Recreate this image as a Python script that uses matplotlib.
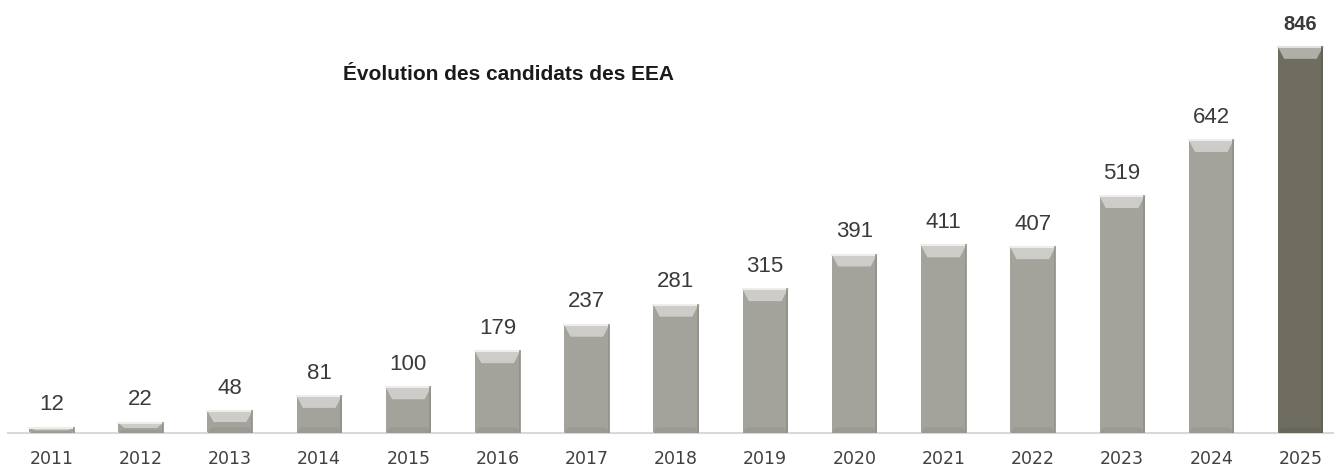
import matplotlib.pyplot as plt
from matplotlib.patches import Polygon

years = ['2011', '2012', '2013', '2014', '2015', '2016', '2017', '2018',
         '2019', '2020', '2021', '2022', '2023', '2024', '2025']
candidats = [12, 22, 48, 81, 100, 179, 237, 281, 315, 391, 411, 407, 519, 642, 846]

grey = '#a4a39b'
dark = '#6e6d60'
colors = [grey] * (len(years) - 1) + [dark]


def lighten(c, f):
    r, g, b = [int(c[i:i + 2], 16) / 255 for i in (1, 3, 5)]
    if f < 0:
        return (r * (1 + f), g * (1 + f), b * (1 + f))
    return (r + (1 - r) * f, g + (1 - g) * f, b + (1 - b) * f)


def plot_bars():
    fig = plt.figure(figsize=(13.34, 4.68), dpi=100)
    ax = fig.add_axes([8 / 1334, 35 / 468, 1 - 8 / 1334, 433 / 468])
    x = list(range(len(years)))
    bars = ax.bar(x, candidats, width=0.505, color=colors, zorder=2)

    # bevel on top and bottom of each bar
    for bar, c in zip(bars, colors):
        x0, w, h = bar.get_x(), bar.get_width(), bar.get_height()
        d = min(26, h * 0.5)
        s = min(0.07, w * 0.3)
        top = Polygon([(x0, h), (x0 + w, h), (x0 + w - s, h - d), (x0 + s, h - d)],
                      closed=True, facecolor=lighten(c, 0.45), edgecolor='none', zorder=3)
        ax.add_patch(top)
        db = min(12, h * 0.3)
        bottom = Polygon([(x0, 0), (x0 + w, 0), (x0 + w - s * 0.6, db), (x0 + s * 0.6, db)],
                         closed=True, facecolor=lighten(c, -0.06), edgecolor='none', zorder=3)
        ax.add_patch(bottom)
        ax.plot([x0, x0 + w], [h, h], color=lighten(c, 0.8), lw=1.5, zorder=4)
        ax.plot([x0 + w - 0.006, x0 + w - 0.006], [0, h], color=lighten(c, -0.12), lw=1.2, zorder=4)

    for i, v in enumerate(candidats):
        last = i == len(candidats) - 1
        ax.annotate(str(v), (i, v), xytext=(0, 9), textcoords='offset points',
                    ha='center', va='bottom', fontsize=14.5 if last else 16,
                    fontweight='bold' if last else 'normal', color='#3a3a3a',
                    family='Liberation Sans')

    ax.set_xlim(-0.488, 14.376)
    ax.set_ylim(0, 949)
    ax.set_xticks(x)
    ax.set_xticklabels(years, fontsize=12.5, color='#404040')
    ax.tick_params(axis='x', length=0, pad=12)
    ax.set_yticks([])
    for side in ['top', 'right', 'left']:
        ax.spines[side].set_visible(False)
    ax.spines['bottom'].set_color('#d9d9d9')
    ax.spines['bottom'].set_linewidth(1.5)

    fig.text(0.381, 0.84, 'Évolution des candidats des EEA', ha='center', va='center',
             fontsize=15, fontweight='bold', color='#1a1a1a', family='Liberation Sans')

    fig.savefig('out.png', dpi=100)


def main():
    plot_bars()


if __name__ == "__main__":
    main()
